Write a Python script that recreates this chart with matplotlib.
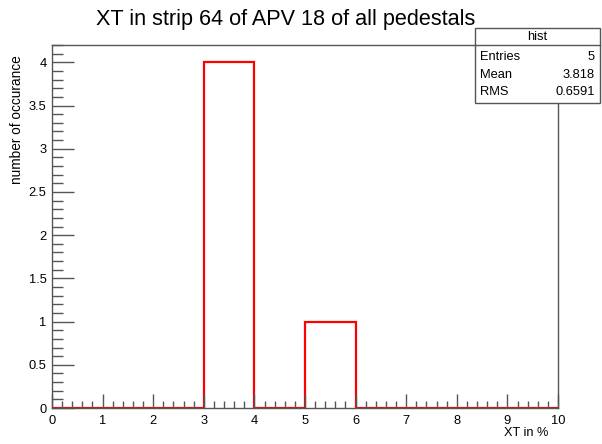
import matplotlib
matplotlib.use("Agg")
import matplotlib.pyplot as plt
import numpy as np
from matplotlib.ticker import MultipleLocator
from matplotlib.patches import Rectangle

plt.rcParams['font.family'] = ['Liberation Sans', 'DejaVu Sans']

bin_edges = [0, 1, 2, 3, 4, 5, 6, 7, 8, 9, 10]
counts = [0, 0, 0, 4, 0, 1, 0, 0, 0, 0]
stats_labels = ["Entries", "Mean", "RMS"]
stats_values = ["5", "3.818", "0.6591"]
y_tick_labels = ['0', '0.5', '1', '1.5', '2', '2.5', '3', '3.5', '4']

fig = plt.figure(figsize=(6.02, 4.44), dpi=100)
ax = fig.add_axes([52/602, 1 - 408/444, (558-52)/602, (408-45)/444])

ax.stairs(counts, bin_edges, color='#ff0000', linewidth=1.6, baseline=0)
ax.set_xlim(0, 10)
ax.set_ylim(0, 4.2)

for s in ax.spines.values():
    s.set_color('#555555')
    s.set_linewidth(1.0)

ax.xaxis.set_minor_locator(MultipleLocator(0.2))
ax.yaxis.set_minor_locator(MultipleLocator(0.1))
ax.tick_params(axis='x', which='major', direction='in', length=10, width=1, color='#555555', labelsize=9.3, pad=5)
ax.tick_params(axis='x', which='minor', direction='in', length=5, width=1, color='#555555')
ax.tick_params(axis='y', which='major', direction='in', length=16, width=1, color='#555555', labelsize=9.3, pad=4)
ax.tick_params(axis='y', which='minor', direction='in', length=8, width=1, color='#555555')
ax.set_yticks(np.arange(0, 4.01, 0.5))
ax.set_yticklabels(y_tick_labels)
ax.set_xticks(bin_edges)
ax.set_xticklabels([str(e) for e in bin_edges])

fig.text(286/602, 1 - 19/444, "XT in strip 64 of APV 18 of all pedestals", ha='center', va='center', fontsize=15.6)
fig.text(548/602, 1 - 433/444, "XT in %", ha='right', va='center', fontsize=9.2)
fig.text(17/602, 1 - 55/444, "number of occurance", ha='center', va='top', rotation=90, fontsize=9.8)

# stats box
bx0, bx1, by0, by1 = 475, 600, 28, 103
hdr = 45
def fx(x): return x/602
def fy(y): return 1 - y/444
fig.patches.append(Rectangle((fx(bx0), fy(by1)), fx(bx1)-fx(bx0), fy(by0)-fy(by1), transform=fig.transFigure,
                             facecolor='white', edgecolor='#555555', linewidth=1.0, zorder=5))
fig.lines.append(plt.Line2D([fx(bx0), fx(bx1)], [fy(hdr), fy(hdr)], transform=fig.transFigure, color='#555555', linewidth=1.0, zorder=6))
fig.text(fx((bx0+bx1)/2), fy((by0+hdr)/2), "hist", ha='center', va='center', fontsize=9.3, zorder=7)
row_y = [57, 75, 92]
for lab, val, y in zip(stats_labels, stats_values, row_y):
    fig.text(fx(bx0+5), fy(y), lab, ha='left', va='center', fontsize=9.3, zorder=7)
    fig.text(fx(bx1-5), fy(y), val, ha='right', va='center', fontsize=9.3, zorder=7)

fig.savefig("out.png", dpi=100)
